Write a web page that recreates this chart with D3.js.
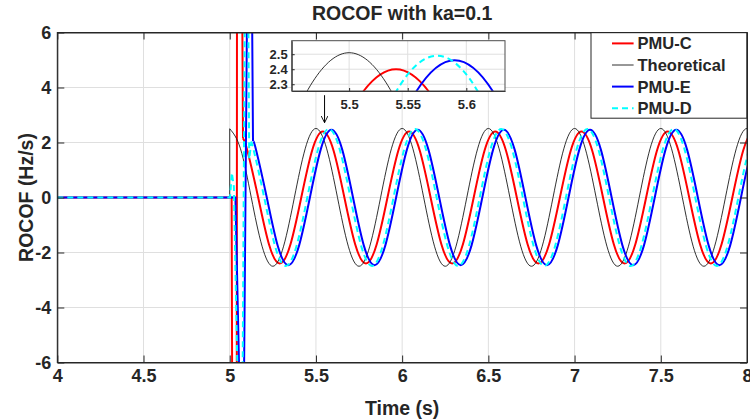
<!DOCTYPE html>
<meta charset="utf-8">
<style>
  body { margin: 0; background: #fff; }
  text { font-family: "Liberation Sans", Arial, sans-serif; font-weight: bold; fill: #262626; }
  .axis path, .axis line { stroke: #262626; }
  .grid line { stroke: #dfdfdf; }
</style>
<script src="https://d3js.org/d3.v7.min.js"></script>
<div id="my_dataviz"></div>
<script>

// ---- data ----
var xTicks = [4, 4.5, 5, 5.5, 6, 6.5, 7, 7.5, 8];
var yTicks = [-6, -4, -2, 0, 2, 4, 6];
var insetXTicks = [5.5, 5.55, 5.6];
var insetYTicks = [2.3, 2.4, 2.5];

// fault transient (values past +-6 leave the axes)
var pmuCTransient = [[4,0],[5.011,0],[5.014,-6.4],[5.041,-6.4],[5.042,6.4],[5.073,6.4],[5.077,2.15]];
var theoTransient = [[4,0],[5,0],[5,2.5]];
var pmuETransient = [[4,0],[5.033,0],[5.055,-6.4],[5.083,-6.4],[5.100,6.4],[5.130,6.4],[5.135,2.05]];
var pmuDTransient = [[4,0],[5.002,0],[5.012,0.9],[5.024,0.4],[5.045,-6.4],[5.075,-6.4],[5.087,6.4],[5.108,6.4],[5.113,1.4],[5.124,1.95]];

// oscillation after the event
var pmuC = [
  [5.1025,1.70],[5.165,0],[5.2275,-1.70],[5.29,-2.4],[5.3525,-1.70],[5.415,0],[5.4775,1.70],
  [5.54,2.4],[5.6025,1.70],[5.665,0],[5.7275,-1.70],[5.79,-2.4],[5.8525,-1.70],[5.915,0],[5.9775,1.70],
  [6.04,2.4],[6.1025,1.70],[6.165,0],[6.2275,-1.70],[6.29,-2.4],[6.3525,-1.70],[6.415,0],[6.4775,1.70],
  [6.54,2.4],[6.6025,1.70],[6.665,0],[6.7275,-1.70],[6.79,-2.4],[6.8525,-1.70],[6.915,0],[6.9775,1.70],
  [7.04,2.4],[7.1025,1.70],[7.165,0],[7.2275,-1.70],[7.29,-2.4],[7.3525,-1.70],[7.415,0],[7.4775,1.70],
  [7.54,2.4],[7.6025,1.70],[7.665,0],[7.7275,-1.70],[7.79,-2.4],[7.8525,-1.70],[7.915,0],[7.9775,1.70],
  [8.04,2.4],[8.1025,1.70],[8.165,0]
];
var theoretical = [
  [5.0625,1.77],[5.125,0],[5.1875,-1.77],[5.25,-2.5],[5.3125,-1.77],[5.375,0],[5.4375,1.77],
  [5.5,2.51],[5.5625,1.77],[5.625,0],[5.6875,-1.77],[5.75,-2.5],[5.8125,-1.77],[5.875,0],[5.9375,1.77],
  [6.0,2.51],[6.0625,1.77],[6.125,0],[6.1875,-1.77],[6.25,-2.5],[6.3125,-1.77],[6.375,0],[6.4375,1.77],
  [6.5,2.51],[6.5625,1.77],[6.625,0],[6.6875,-1.77],[6.75,-2.5],[6.8125,-1.77],[6.875,0],[6.9375,1.77],
  [7.0,2.51],[7.0625,1.77],[7.125,0],[7.1875,-1.77],[7.25,-2.5],[7.3125,-1.77],[7.375,0],[7.4375,1.77],
  [7.5,2.51],[7.5625,1.77],[7.625,0],[7.6875,-1.77],[7.75,-2.5],[7.8125,-1.77],[7.875,0],[7.9375,1.77],
  [8.0,2.51],[8.0625,1.77],[8.125,0]
];
var pmuE = [
  [5.1525,1.74],[5.215,0],[5.2775,-1.74],[5.34,-2.46],[5.4025,-1.74],[5.465,0],[5.5275,1.74],
  [5.59,2.46],[5.6525,1.74],[5.715,0],[5.7775,-1.74],[5.84,-2.46],[5.9025,-1.74],[5.965,0],[6.0275,1.74],
  [6.09,2.46],[6.1525,1.74],[6.215,0],[6.2775,-1.74],[6.34,-2.46],[6.4025,-1.74],[6.465,0],[6.5275,1.74],
  [6.59,2.46],[6.6525,1.74],[6.715,0],[6.7775,-1.74],[6.84,-2.46],[6.9025,-1.74],[6.965,0],[7.0275,1.74],
  [7.09,2.46],[7.1525,1.74],[7.215,0],[7.2775,-1.74],[7.34,-2.46],[7.4025,-1.74],[7.465,0],[7.5275,1.74],
  [7.59,2.46],[7.6525,1.74],[7.715,0],[7.7775,-1.74],[7.84,-2.46],[7.9025,-1.74],[7.965,0],[8.0275,1.74],
  [8.09,2.46],[8.1525,1.74],[8.215,0]
];
var pmuD = [
  [5.1375,1.76],[5.2,0],[5.2625,-1.76],[5.325,-2.49],[5.3875,-1.76],[5.45,0],[5.5125,1.76],
  [5.575,2.49],[5.6375,1.76],[5.7,0],[5.7625,-1.76],[5.825,-2.49],[5.8875,-1.76],[5.95,0],[6.0125,1.76],
  [6.075,2.49],[6.1375,1.76],[6.2,0],[6.2625,-1.76],[6.325,-2.49],[6.3875,-1.76],[6.45,0],[6.5125,1.76],
  [6.575,2.49],[6.6375,1.76],[6.7,0],[6.7625,-1.76],[6.825,-2.49],[6.8875,-1.76],[6.95,0],[7.0125,1.76],
  [7.075,2.49],[7.1375,1.76],[7.2,0],[7.2625,-1.76],[7.325,-2.49],[7.3875,-1.76],[7.45,0],[7.5125,1.76],
  [7.575,2.49],[7.6375,1.76],[7.7,0],[7.7625,-1.76],[7.825,-2.49],[7.8875,-1.76],[7.95,0],[8.0125,1.76],
  [8.075,2.49],[8.1375,1.76],[8.2,0]
];

var series = [
  {name: "PMU-C",       color: "#ff0000", width: 2,   dash: null,  transient: pmuCTransient, steady: pmuC},
  {name: "Theoretical", color: "#1a1a1a", width: 0.9, dash: null,  transient: theoTransient, steady: theoretical},
  {name: "PMU-E",       color: "#0000ff", width: 2,   dash: null,  transient: pmuETransient, steady: pmuE},
  {name: "PMU-D",       color: "#00ffff", width: 2,   dash: "6,4", transient: pmuDTransient, steady: pmuD}
];

// ---- layout ----
var margin = {top: 32.5, right: 3, bottom: 56.5, left: 57.3},
    width = 750 - margin.left - margin.right,
    height = 419 - margin.top - margin.bottom;

var svg = d3.select("#my_dataviz")
  .append("svg")
    .attr("width", 750)
    .attr("height", 419)
  .append("g")
    .attr("transform", "translate(" + margin.left + "," + margin.top + ")");

var x = d3.scaleLinear().domain([4, 8]).range([0, width]);
var y = d3.scaleLinear().domain([-6, 6]).range([height, 0]);
var plain = function(d) { return String(d); };

// grid
svg.append("g").attr("class", "grid")
  .selectAll("line").data(xTicks.slice(1, -1)).enter().append("line")
    .attr("x1", function(d) { return x(d); }).attr("x2", function(d) { return x(d); })
    .attr("y1", 0).attr("y2", height);
svg.append("g").attr("class", "grid")
  .selectAll("line").data(yTicks.slice(1, -1)).enter().append("line")
    .attr("y1", function(d) { return y(d); }).attr("y2", function(d) { return y(d); })
    .attr("x1", 0).attr("x2", width);

svg.append("clipPath").attr("id", "plotclip")
  .append("rect").attr("width", width).attr("height", height);

function drawSeries(g, xs, ys) {
  var lin = d3.line().x(function(d) { return xs(d[0]); }).y(function(d) { return ys(d[1]); });
  var nat = d3.line().curve(d3.curveNatural)
    .x(function(d) { return xs(d[0]); }).y(function(d) { return ys(d[1]); });
  series.forEach(function(s) {
    var last = s.transient[s.transient.length - 1];
    g.append("path").attr("d", lin(s.transient))
      .attr("fill", "none").attr("stroke", s.color).attr("stroke-width", s.width)
      .attr("stroke-dasharray", s.dash);
    g.append("path").attr("d", nat([last].concat(s.steady)))
      .attr("fill", "none").attr("stroke", s.color).attr("stroke-width", s.width)
      .attr("stroke-dasharray", s.dash);
  });
}

var lines = svg.append("g").attr("clip-path", "url(#plotclip)");
drawSeries(lines, x, y);

// axes, ticks inward on all four sides
svg.append("g").attr("class", "axis")
  .attr("transform", "translate(0," + height + ")")
  .call(d3.axisBottom(x).tickValues(xTicks).tickFormat(plain).tickSizeInner(-7).tickSizeOuter(0).tickPadding(7))
  .selectAll("text").style("font-size", "18px");
svg.append("g").attr("class", "axis")
  .call(d3.axisLeft(y).tickValues(yTicks).tickFormat(plain).tickSizeInner(-7).tickSizeOuter(0).tickPadding(6))
  .selectAll("text").style("font-size", "18px");
svg.append("g").attr("class", "axis")
  .call(d3.axisTop(x).tickValues(xTicks).tickFormat("").tickSizeInner(-7).tickSizeOuter(0));
svg.append("g").attr("class", "axis")
  .attr("transform", "translate(" + width + ",0)")
  .call(d3.axisRight(y).tickValues(yTicks).tickFormat("").tickSizeInner(-7).tickSizeOuter(0));
svg.selectAll(".axis text").attr("fill", "#262626");

// titles
svg.append("text").attr("x", width / 2).attr("y", -12.5)
  .attr("text-anchor", "middle").style("font-size", "19.5px")
  .text("ROCOF with ka=0.1");
svg.append("text").attr("x", width / 2).attr("y", height + 52)
  .attr("text-anchor", "middle").style("font-size", "19.5px")
  .text("Time (s)");
svg.append("text")
  .attr("transform", "translate(" + (-24) + "," + (height / 2) + ") rotate(-90)")
  .attr("text-anchor", "middle").style("font-size", "19.5px")
  .text("ROCOF (Hz/s)");

// arrow pointing at the zoomed peak
var arrowFrom = [5.55, 3.72], arrowTo = [5.55, 2.72];
svg.append("defs").append("marker")
    .attr("id", "arrowhead").attr("viewBox", "0 0 10 10")
    .attr("refX", 10).attr("refY", 5)
    .attr("markerWidth", 7).attr("markerHeight", 7)
    .attr("markerUnits", "userSpaceOnUse")
    .attr("orient", "auto")
  .append("path").attr("d", "M0,0L10,5L0,10").attr("fill", "none").attr("stroke", "#000").attr("stroke-width", 1.3);
svg.append("line")
  .attr("x1", x(arrowFrom[0])).attr("y1", y(arrowFrom[1]))
  .attr("x2", x(arrowTo[0])).attr("y2", y(arrowTo[1]))
  .attr("stroke", "#000").attr("stroke-width", 1)
  .attr("marker-end", "url(#arrowhead)");

// ---- inset ----
var insetBox = {left: 234.4, top: 8.2, width: 213.3, height: 50.3};
var xi = d3.scaleLinear().domain([5.451, 5.633]).range([0, insetBox.width]);
var yi = d3.scaleLinear().domain([2.255, 2.59]).range([insetBox.height, 0]);

var inset = svg.append("g")
  .attr("transform", "translate(" + insetBox.left + "," + insetBox.top + ")");
inset.append("rect").attr("width", insetBox.width).attr("height", insetBox.height).attr("fill", "#fff");
inset.append("g").attr("class", "grid")
  .selectAll("line").data(insetXTicks).enter().append("line")
    .attr("x1", function(d) { return xi(d); }).attr("x2", function(d) { return xi(d); })
    .attr("y1", 0).attr("y2", insetBox.height);
inset.append("g").attr("class", "grid")
  .selectAll("line").data(insetYTicks).enter().append("line")
    .attr("y1", function(d) { return yi(d); }).attr("y2", function(d) { return yi(d); })
    .attr("x1", 0).attr("x2", insetBox.width);
inset.append("clipPath").attr("id", "insetclip")
  .append("rect").attr("width", insetBox.width).attr("height", insetBox.height);
var insetLines = inset.append("g").attr("clip-path", "url(#insetclip)");
drawSeries(insetLines, xi, yi);

inset.append("g").attr("class", "axis")
  .attr("transform", "translate(0," + insetBox.height + ")")
  .call(d3.axisBottom(xi).tickValues(insetXTicks).tickFormat(plain).tickSizeInner(-3).tickSizeOuter(0).tickPadding(9))
  .selectAll("text").style("font-size", "13px");
inset.append("g").attr("class", "axis")
  .call(d3.axisLeft(yi).tickValues(insetYTicks).tickFormat(plain).tickSizeInner(-3).tickSizeOuter(0).tickPadding(4))
  .selectAll("text").style("font-size", "13px");
inset.append("rect").attr("width", insetBox.width).attr("height", insetBox.height)
  .attr("fill", "none").attr("stroke", "#4d4d4d").attr("stroke-width", 1);

// ---- legend ----
var legend = svg.append("g").attr("transform", "translate(" + (width - 156) + ",0.2)");
legend.append("rect").attr("width", 156).attr("height", 85.5)
  .attr("fill", "#fff").attr("stroke", "#262626").attr("stroke-width", 1);
var rows = legend.selectAll("g.row").data(series).enter().append("g")
  .attr("class", "row")
  .attr("transform", function(d, i) { return "translate(0," + (10.7 + i * 21.6) + ")"; });
rows.append("line").attr("x1", 21).attr("x2", 42.6)
  .attr("stroke", function(d) { return d.color; })
  .attr("stroke-width", function(d) { return d.width; })
  .attr("stroke-dasharray", function(d) { return d.dash; });
rows.append("text").attr("x", 46.5).attr("dy", "0.36em")
  .style("font-size", "16.5px").attr("fill", "#000")
  .text(function(d) { return d.name; });

// box outline on top
svg.append("rect").attr("width", width).attr("height", height)
  .attr("fill", "none").attr("stroke", "#262626").attr("stroke-width", 1);

</script>
